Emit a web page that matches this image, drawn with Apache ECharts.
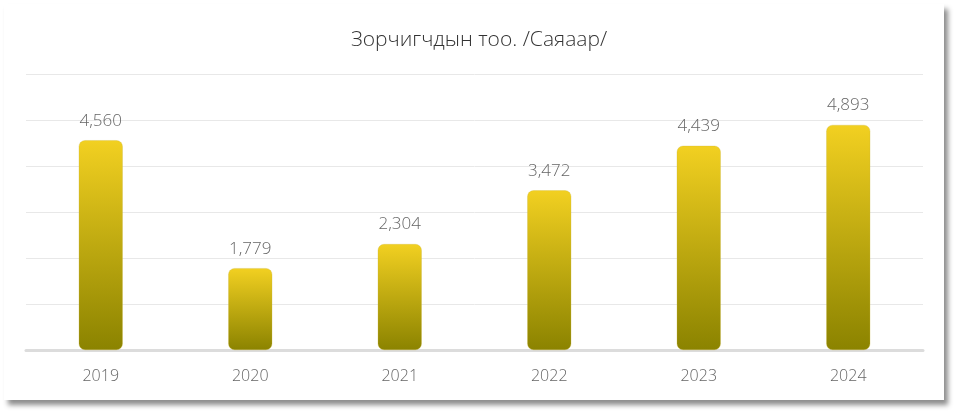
<!DOCTYPE html>
<html><head><meta charset="utf-8">
<script src="https://cdn.jsdelivr.net/npm/echarts@6/dist/echarts.min.js"></script>
<style>
html,body{margin:0;padding:0;background:#fff;}
#card{position:absolute;left:4px;top:4px;width:940px;height:396px;background:#fff;box-shadow:4px 5px 5px rgba(0,0,0,0.45);}
#chart{position:absolute;left:0;top:0;width:957px;height:415px;}
</style></head>
<body>
<div id="card"></div>
<div id="chart"></div>
<script>
const titleText = 'Зорчигчдын тоо. /Саяаар/';
const categories = ['2019','2020','2021','2022','2023','2024'];
const values = [4560, 1779, 2304, 3472, 4439, 4893];

const chart = echarts.init(document.getElementById('chart'), null, {renderer:'canvas'});
const font = "'Segoe UI', 'Open Sans', 'Noto Sans', sans-serif";
chart.setOption({
  backgroundColor: 'transparent',
  animation: false,
  title: {
    text: titleText, left: 474, textAlign: 'center', top: 25,
    textStyle: {fontFamily: font, fontWeight: 300, fontSize: 21, color: '#333'}
  },
  grid: {left: 26, right: 34, top: 74, bottom: 65},
  xAxis: {
    type: 'category', data: categories,
    axisLine: {lineStyle: {color: '#dcdcdc', width: 3}},
    axisTick: {show: false},
    axisLabel: {color: '#666', fontFamily: font, fontWeight: 300, fontSize: 16, margin: 18}
  },
  yAxis: {
    type: 'value', min: 0, max: 6000, interval: 1000,
    axisLabel: {show: false}, axisLine: {show: false}, axisTick: {show: false},
    splitLine: {lineStyle: {color: '#e8e8e8', width: 1}}
  },
  series: [{
    type: 'bar', data: values, barWidth: 44,
    itemStyle: {
      borderRadius: 6,
      borderColor: 'rgba(200,180,60,0.6)', borderWidth: 0.5,
      color: new echarts.graphic.LinearGradient(0,0,0,1,[
        {offset:0, color:'#f2d021'},
        {offset:1, color:'#8b8300'}
      ])
    },
    label: {
      show: true, position: 'top', distance: 11,
      color: '#666', fontFamily: font, fontWeight: 300, fontSize: 17,
      formatter: p => p.value.toLocaleString('en-US')
    }
  }]
});
</script>
</body></html>
